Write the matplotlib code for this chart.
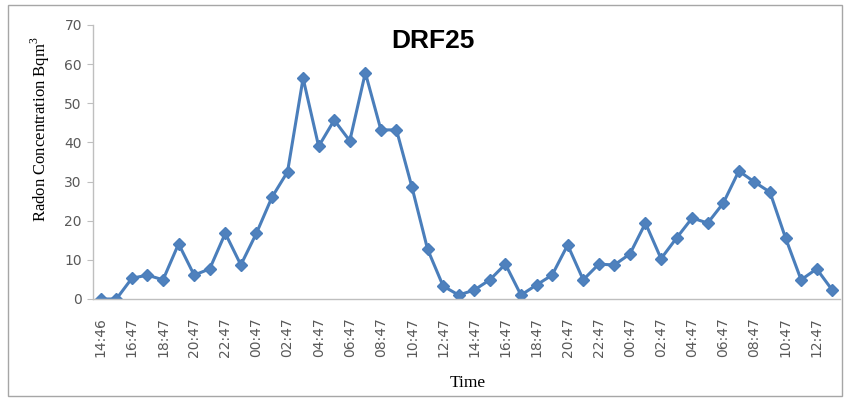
import matplotlib.pyplot as plt
from matplotlib.patches import Rectangle

# hourly readings, DRF25
times = ['14:46', '15:47', '16:47', '17:47', '18:47', '19:47', '20:47', '21:47',
         '22:47', '23:47', '00:47', '01:47', '02:47', '03:47', '04:47', '05:47',
         '06:47', '07:47', '08:47', '09:47', '10:47', '11:47', '12:47', '13:47',
         '14:47', '15:47', '16:47', '17:47', '18:47', '19:47', '20:47', '21:47',
         '22:47', '23:47', '00:47', '01:47', '02:47', '03:47', '04:47', '05:47',
         '06:47', '07:47', '08:47', '09:47', '10:47', '11:47', '12:47', '13:47']
radon = [0.0, 0.0, 5.3, 6.1, 4.9, 14.1, 6.1, 7.7, 16.8, 8.7, 16.8, 26.0,
         32.5, 56.4, 39.0, 45.7, 40.4, 57.8, 43.2, 43.2, 28.5, 12.7, 3.3, 1.0,
         2.3, 4.9, 8.9, 1.0, 3.6, 6.1, 13.8, 4.9, 8.9, 8.7, 11.5, 19.4,
         10.3, 15.6, 20.7, 19.4, 24.5, 32.7, 29.9, 27.3, 15.6, 4.9, 7.7, 2.3]
yticks = [0, 10, 20, 30, 40, 50, 60, 70]


def main():
    fig = plt.figure(figsize=(8.47, 4.0), dpi=100)
    ax = fig.add_axes([93 / 847, 101 / 400, (840 - 93) / 847, 274 / 400])

    x = list(range(len(radon)))
    ax.plot(x, radon, color='#4A7EBB', lw=2.2, marker='D', markersize=6,
            markerfacecolor='#4F81BD', markeredgecolor='#4A7EBB')

    ax.set_xlim(-0.5, len(radon) - 0.5)
    ax.set_ylim(0, 70)
    ax.set_yticks(yticks)
    ax.set_xticks(x[::2])
    ax.set_xticklabels(times[::2], rotation=90)

    for s in ['top', 'right']:
        ax.spines[s].set_visible(False)
    for s in ['left', 'bottom']:
        ax.spines[s].set_color('#BFBFBF')
        ax.spines[s].set_linewidth(1)
    ax.tick_params(axis='y', colors='#BFBFBF', labelcolor='#595959',
                   labelsize=10, length=4, pad=4)
    ax.tick_params(axis='x', colors='#BFBFBF', labelcolor='#595959',
                   labelsize=10, length=0, pad=13)

    fig.text(433 / 847, 1 - 41 / 400, 'DRF25', fontsize=19, fontweight='bold',
             family='Liberation Sans', ha='center', va='center')
    fig.text(40 / 847, 1 - 129 / 400, r'Radon Concentration Bqm$^{\mathregular{3}}$',
             fontsize=12, family='Liberation Serif', rotation=90,
             ha='center', va='center')
    fig.text(468 / 847, 1 - 383 / 400, 'Time', fontsize=12.5,
             family='Liberation Serif', ha='center', va='center')

    # outer chart frame
    fig.patches.append(Rectangle((8 / 847, 4 / 400), 834 / 847, 391 / 400,
                                 transform=fig.transFigure, fill=False,
                                 edgecolor='#A6A6A6', lw=1))

    fig.savefig('out.png', dpi=100)


if __name__ == "__main__":
    main()
